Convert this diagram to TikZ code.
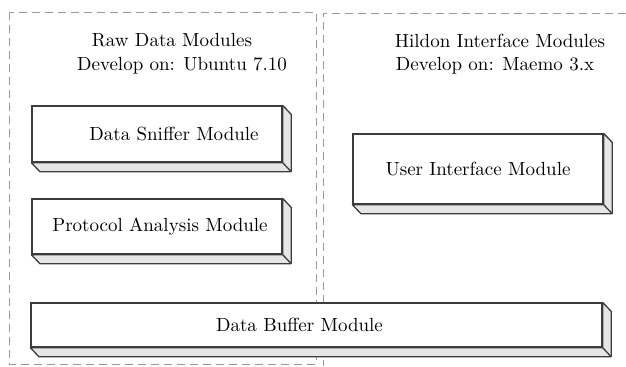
\documentclass[tikz,border=0pt]{standalone}
\usepackage{tikz}
\usetikzlibrary{calc}
\definecolor{edgegray}{HTML}{3C3C3C}
\definecolor{sidegray}{HTML}{E6E6E6}
\definecolor{dashgray}{HTML}{9A9A9A}
\tikzstyle{module} = [rectangle, draw=edgegray, line width=0.65pt, fill=white, inner sep=0pt, font=\fontsize{9.5}{11}\selectfont]
\tikzstyle{side} = [draw=edgegray, fill=sidegray, line width=0.65pt, line join=round]
\tikzstyle{group} = [draw=dashgray, line width=0.5pt, dash pattern=on 4pt off 2.5pt]
\tikzstyle{title} = [inner sep=0pt, font=\fontsize{9.5}{11}\selectfont]

\begin{document}
\begin{tikzpicture}[x=0.5pt, y=-0.5pt]
    \useasboundingbox (0,0) rectangle (626,366);

    % Groups
    \draw[group] (9,12) rectangle (316,364);
    \draw[group] (626,13) -- (323,13) -- (323,366);

    % Titles
    \node[title] (rawtitle) at (172,40) {Raw Data Modules};
    \node[title] (rawos) at (182,66) {Develop on: Ubuntu 7.10};
    \node[title] (hildontitle) at (500,41) {Hildon Interface Modules};
    \node[title] (hildonos) at (495,66) {Develop on: Maemo 3.x};

    % Modules
    \node[module, minimum width=125pt, minimum height=28pt] (sniffer) at (157,134) {\hspace*{17pt}Data Sniffer Module};
    \node[module, minimum width=125pt, minimum height=27.5pt] (protocol) at (157,226.5) {\hspace*{3pt}Protocol Analysis Module};
    \node[module, minimum width=125pt, minimum height=35pt] (ui) at (478,169) {User Interface Module};
    \node[module, minimum width=285.5pt, minimum height=22pt] (buffer) at (316.5,325) {Data Buffer Module\hspace*{17pt}};

    % 3D sides
    \foreach \n in {sniffer,protocol,ui,buffer} {
        \draw[side] (\n.south west) -- ++(8.5,9) -- ($(\n.south east)+(8.5,9)$) -- ($(\n.north east)+(8.5,9)$) -- (\n.north east) -- (\n.south east) -- cycle;
        \draw[side] (\n.south east) -- ++(8.5,9);
    }
\end{tikzpicture}
\end{document}
